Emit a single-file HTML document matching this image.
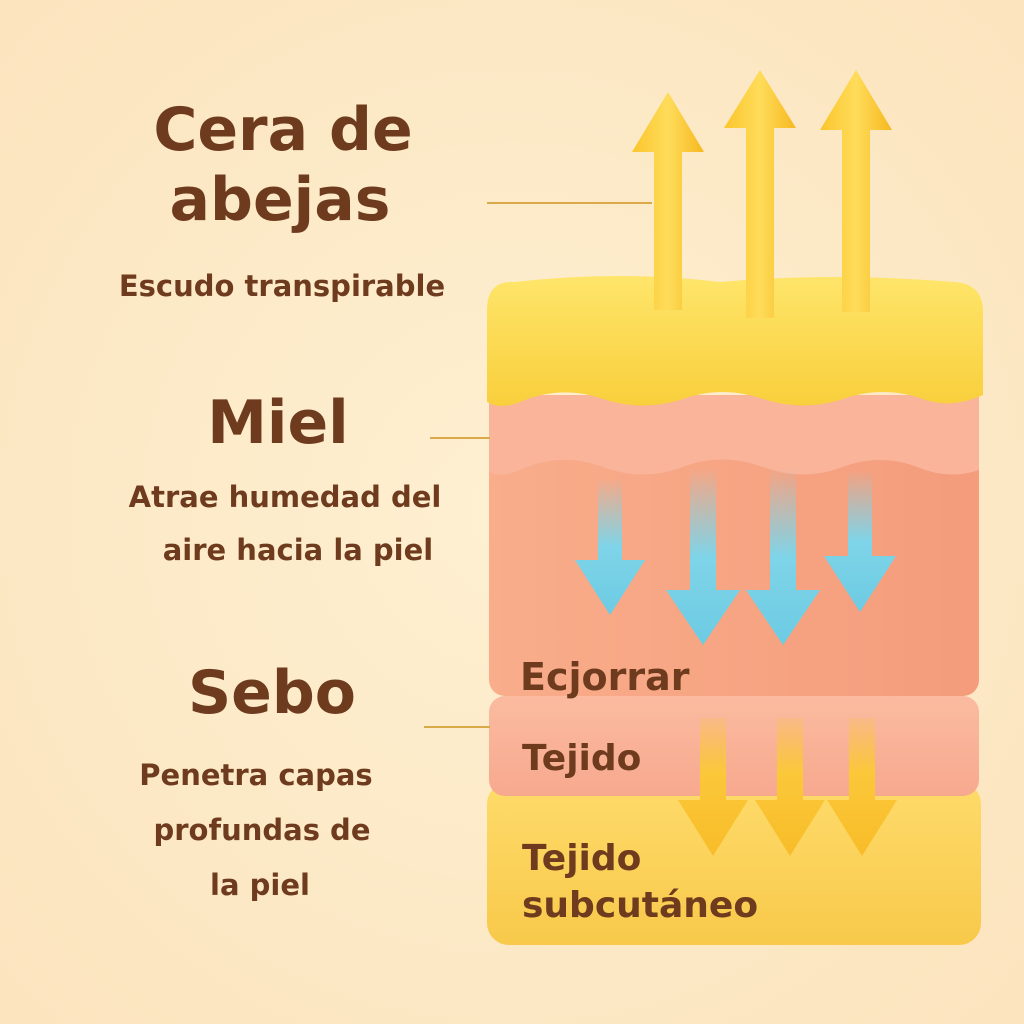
<!DOCTYPE html>
<html><head><meta charset="utf-8"><style>
html,body{margin:0;padding:0;background:#fdebc9;}
svg{display:block}
text{font-family:"DejaVu Sans","Liberation Sans",sans-serif;font-weight:bold;fill:#6e3b1e}
</style></head><body>
<svg width="1024" height="1024" viewBox="0 0 1024 1024" xmlns="http://www.w3.org/2000/svg">
<defs>
<radialGradient id="bg" cx="0.5" cy="0.5" r="0.75"><stop offset="0" stop-color="#fef0d2"/><stop offset="1" stop-color="#fbe3bc"/></radialGradient>
<linearGradient id="yel" x1="0" y1="0" x2="0" y2="1"><stop offset="0" stop-color="#fee56a"/><stop offset="1" stop-color="#f9cf3c"/></linearGradient>
<linearGradient id="yel2" x1="0" y1="0" x2="0" y2="1"><stop offset="0" stop-color="#fedb6a"/><stop offset="1" stop-color="#f8c94a"/></linearGradient>
<linearGradient id="sal" x1="0" y1="0" x2="1" y2="0"><stop offset="0" stop-color="#f9ad8a"/><stop offset="1" stop-color="#f49c7c"/></linearGradient>
<linearGradient id="pink" x1="0" y1="0" x2="0" y2="1"><stop offset="0" stop-color="#fbbba0"/><stop offset="1" stop-color="#f7a98e"/></linearGradient>
<linearGradient id="blue" x1="0" y1="0" x2="0" y2="1"><stop offset="0" stop-color="#7fd4e8" stop-opacity="0"/><stop offset="0.5" stop-color="#7fd4e8"/><stop offset="1" stop-color="#6ccbe3"/></linearGradient>
<linearGradient id="ya" x1="0" y1="0" x2="1" y2="0"><stop offset="0" stop-color="#fbc52c"/><stop offset="0.5" stop-color="#fedc5a"/><stop offset="1" stop-color="#f7b820"/></linearGradient>
<linearGradient id="yad" x1="0" y1="0" x2="0" y2="1"><stop offset="0" stop-color="#fbc83a" stop-opacity="0.2"/><stop offset="0.4" stop-color="#fbc83a"/><stop offset="1" stop-color="#f8bc28"/></linearGradient>
</defs>
<rect width="1024" height="1024" fill="url(#bg)"/>

<!-- bottom yellow -->
<rect x="487" y="782" width="494" height="163" rx="22" fill="url(#yel2)"/>
<!-- tejido -->
<rect x="489" y="696" width="490" height="100" rx="16" fill="url(#pink)"/>
<!-- main salmon -->
<rect x="489" y="450" width="490" height="246" rx="16" fill="url(#sal)"/>
<!-- pink wavy -->
<path d="M489 395 L979 395 L979 470 Q950 480 920 468 Q880 452 840 468 Q800 482 760 466 Q720 452 680 468 Q640 482 600 466 Q560 452 520 470 Q500 478 489 472 Z" fill="#f9b49a"/>
<!-- top yellow -->
<path d="M487 310 Q487 280 515 282 Q620 270 720 282 Q830 272 955 282 Q983 284 983 312 L983 395 Q950 410 920 398 Q880 385 840 400 Q800 412 760 398 Q720 385 680 400 Q640 412 600 398 Q560 385 520 402 Q500 410 487 402 Z" fill="url(#yel)"/>

<!-- up arrows -->
<g fill="url(#ya)">
<path d="M654 310 L654 152 L632 152 L668 92 L704 152 L682 152 L682 310 Z"/>
<path d="M746 318 L746 128 L724 128 L760 70 L796 128 L774 128 L774 318 Z"/>
<path d="M842 312 L842 130 L820 130 L856 70 L892 130 L870 130 L870 312 Z"/>
</g>
<!-- blue arrows -->
<g fill="url(#blue)">
<path d="M598 478 L622 478 L622 560 L645 560 L610 615 L575 560 L598 560 Z"/>
<path d="M690 468 L716 468 L716 590 L740 590 L703 645 L666 590 L690 590 Z"/>
<path d="M770 468 L796 468 L796 590 L820 590 L783 645 L746 590 L770 590 Z"/>
<path d="M848 470 L872 470 L872 556 L896 556 L860 612 L824 556 L848 556 Z"/>
</g>
<!-- yellow down arrows -->
<g fill="url(#yad)">
<path d="M700 718 L726 718 L726 800 L748 800 L713 856 L678 800 L700 800 Z"/>
<path d="M777 718 L803 718 L803 800 L825 800 L790 856 L755 800 L777 800 Z"/>
<path d="M849 718 L875 718 L875 800 L897 800 L862 856 L827 800 L849 800 Z"/>
</g>

<!-- lines -->
<g stroke="#d9a94a" stroke-width="2">
<line x1="487" y1="203" x2="652" y2="203"/>
<line x1="430" y1="438" x2="490" y2="438"/>
<line x1="424" y1="727" x2="490" y2="727"/>
</g>

<!-- left texts -->
<g text-anchor="middle">
<text x="283" y="150" font-size="60">Cera de</text>
<text x="280" y="220" font-size="60">abejas</text>
<text x="282" y="296" font-size="29">Escudo transpirable</text>
<text x="278" y="443" font-size="60">Miel</text>
<text x="285" y="507" font-size="29">Atrae humedad del</text>
<text x="298" y="560" font-size="29">aire hacia la piel</text>
<text x="272" y="713" font-size="60">Sebo</text>
<text x="256" y="785" font-size="29">Penetra capas</text>
<text x="262" y="840" font-size="29">profundas de</text>
<text x="260" y="895" font-size="29">la piel</text>
</g>
<text x="520" y="690" font-size="38">Ecjorrar</text>
<text x="522" y="770" font-size="36">Tejido</text>
<text x="522" y="870" font-size="36">Tejido</text>
<text x="522" y="917" font-size="36">subcutáneo</text>
</svg>
</body></html>
